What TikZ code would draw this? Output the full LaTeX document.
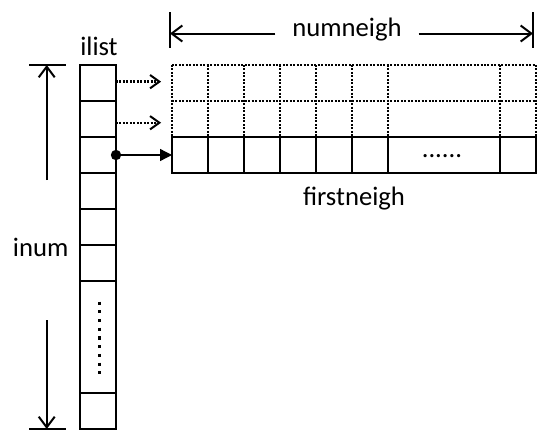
\documentclass[tikz,border=0pt]{standalone}
\usepackage{fontspec}
\setmainfont{Carlito}
\usetikzlibrary{arrows.meta}
\begin{document}
\begin{tikzpicture}[x=0.75pt,y=-0.75pt,
  lbl/.style={font=\fontsize{20}{24}\selectfont, inner sep=0pt, anchor=base},
  cellbox/.style={draw, line width=2.1pt, inner sep=0pt, outer sep=0pt, minimum height=27pt, minimum width=27pt},
  dotcell/.style={inner sep=0pt, outer sep=0pt, minimum height=27pt, minimum width=27pt},
  dotgrid/.style={line width=1.8pt, dash pattern=on 1.5pt off 1.1pt},
  dimline/.style={line width=1.5pt, -{Straight Barb[length=8pt,width=12pt,line width=1.5pt]}},
  barline/.style={line width=2pt},
  dotarrow/.style={line width=1.8pt, dash pattern=on 1.5pt off 1.1pt, -{Straight Barb[length=7pt,width=10pt,line width=1.5pt,sep]}, shorten >=6.75pt},
  ptrarrow/.style={line width=1pt, -{Triangle[length=9pt,width=9pt]}}
]
\useasboundingbox (0,0) rectangle (551,447);

% ilist column
\foreach \k/\y in {1/83,2/119,3/155,4/191,5/227,6/263}
  \node[cellbox] (i\k) at (98,\y) {};
\node[cellbox, minimum height=84pt] (i7) at (98,337) {};
\node[cellbox] (i8) at (98,411) {};
\draw[line width=2.3pt, dash pattern=on 2.3pt off 4.25pt] (99.3,301.5) -- (99.3,376);

% neighbour grid
\foreach \c/\x in {1/190,2/226,3/262,4/298,5/334,6/370,8/518}{
  \node[dotcell] (g-1-\c) at (\x,83) {};
  \node[dotcell] (g-2-\c) at (\x,119) {};
}
\node[dotcell, minimum width=84pt] (g-1-7) at (444,83) {};
\node[dotcell, minimum width=84pt] (g-2-7) at (444,119) {};
% dotted lines of the two upper rows
\draw[dotgrid] (g-1-1.north west) -- (g-1-8.north east);
\draw[dotgrid] (g-2-1.north west) -- (g-2-8.north east);
\foreach \c in {1,...,8}
  \draw[dotgrid] (g-1-\c.north west) -- (g-2-\c.south west);
\draw[dotgrid] (g-1-8.north east) -- (g-2-8.south east);
% solid bottom row
\foreach \c/\x in {1/190,2/226,3/262,4/298,5/334,6/370,8/518}
  \node[cellbox] (g-3-\c) at (\x,155) {};
\node[cellbox, minimum width=84pt] (g-3-7) at (444,155) {};
\node[lbl] (dots) at (442,157.5) {......};

% labels
\node[lbl] (ilist) at (99,55) {ilist};
\node[lbl] (inum) at (40.7,256.7) {inum};
\node[lbl] (firstneigh) at (354,205) {firstneigh};
\node[lbl, inner xsep=12.5pt] (num) at (347,36.7) {numneigh};

% numneigh dimension
\coordinate (nlt) at (170,12);
\coordinate (nlb) at (170,48);
\coordinate (nrt) at (533,12);
\coordinate (nrb) at (533,48);
\draw[barline] (nlt) -- (nlb);
\draw[barline] (nrt) -- (nrb);
\draw[dimline] (num.mid west) -- (num.mid west -| nlt);
\draw[dimline] (num.mid east) -- (num.mid east -| nrt);

% inum dimension
\coordinate (tbl) at (29,65);
\coordinate (tbr) at (66,65);
\coordinate (bbl) at (29,429);
\coordinate (bbr) at (66,429);
\coordinate (tstart) at (46.7,180);
\coordinate (bstart) at (46.7,320);
\draw[barline] (tbl) -- (tbr);
\draw[barline] (bbl) -- (bbr);
\draw[dimline] (tstart) -- (tstart |- tbl);
\draw[dimline] (bstart) -- (bstart |- bbl);

% pointers
\draw[dotarrow] ([yshift=1pt]i1.east) -- ([yshift=1pt]g-1-1.west);
\draw[dotarrow] ([yshift=-2.8pt]i2.east) -- ([yshift=-2.8pt]g-2-1.west);
\draw[ptrarrow] (i3.east) -- (g-3-1.west);
\fill (i3.east) circle (3.9pt);
\end{tikzpicture}
\end{document}
